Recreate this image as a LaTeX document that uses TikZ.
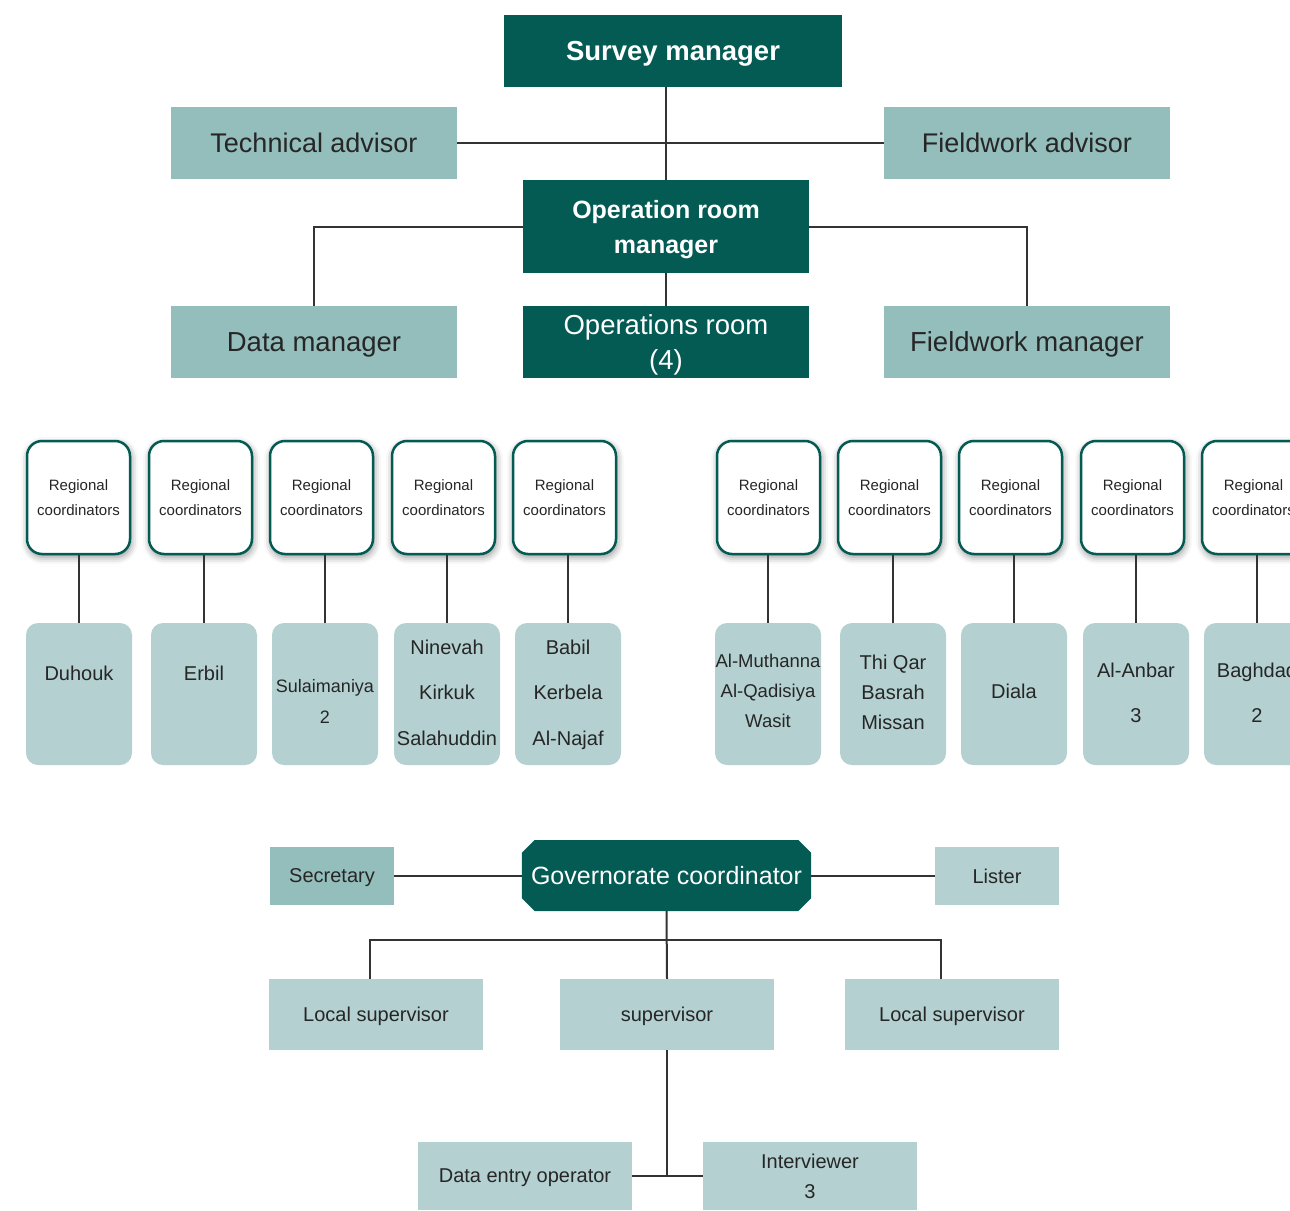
\documentclass[tikz,border=0pt]{standalone}
\usepackage{fontspec}
\setmainfont{Liberation Sans}
\usetikzlibrary{shapes.misc,shadows.blur}
\definecolor{dteal}{RGB}{3,91,84}
\definecolor{lteal}{RGB}{148,190,188}
\definecolor{pteal}{RGB}{180,208,208}
\definecolor{txt}{RGB}{38,38,38}
\definecolor{lncol}{RGB}{51,51,51}
\newcommand\fz[2]{\fontsize{#1}{#2}\selectfont}
\begin{document}
\begin{tikzpicture}[x=1pt,y=-1pt,
  conn/.style={draw=lncol,line width=2pt},
  darkbox/.style={fill=dteal,text=white,inner sep=0pt,align=center,text depth=0pt},
  ltbox/.style={fill=lteal,text=txt,inner sep=0pt,align=center,text depth=0pt},
  plbox/.style={fill=pteal,text=txt,inner sep=0pt,align=center,text depth=0pt},
  bigbox/.style={minimum width=286pt,minimum height=72pt},
  rcbox/.style={draw=dteal,line width=2.5pt,fill=white,rounded corners=15pt,
    minimum width=103pt,minimum height=113pt,inner sep=0pt,align=center,text=txt,
    font=\fz{15}{25},
    blur shadow={shadow xshift=1pt,shadow yshift=-3pt,shadow blur radius=7pt,shadow opacity=45}},
  govbox/.style={fill=pteal,rounded corners=12pt,minimum width=106pt,minimum height=142pt,inner sep=0pt},
  govtxt/.style={text=txt,align=center,inner sep=0pt},
  smallbox/.style={minimum width=214pt,font=\fz{20}{30}}
]
\useasboundingbox (0,0) rectangle (1290,1210);
\clip (0,0) rectangle (1290,1210);

% ---------- top part
\node[darkbox,minimum width=338pt,minimum height=72pt,font=\bfseries\fz{27.5}{33}] (sm) at (673,51) {Survey manager};
\node[ltbox,bigbox,font=\fz{27}{33}] (ta) at (314,143) {Technical advisor};
\node[ltbox,bigbox,font=\fz{27}{33}] (fa) at (1027,143) {Fieldwork advisor};
\node[darkbox,minimum width=286pt,minimum height=93pt,font=\bfseries\fz{25}{35}] (orm) at (666,226.5) {Operation room\\manager};
\node[ltbox,bigbox,font=\fz{27.5}{33}] (dm) at (314,342) {Data manager};
\node[darkbox,bigbox,font=\fz{27.5}{35}] (opr) at (666,342) {Operations room\\(4)};
\node[ltbox,bigbox,font=\fz{27.5}{33}] (fm) at (1027,342) {Fieldwork manager};

\draw[conn] (orm.north) -- (orm.north |- sm.south);
\draw[conn] (ta.east) -- (fa.west);
\draw[conn] (orm.west) -| (dm.north);
\draw[conn] (orm.east) -| (fm.north);
\draw[conn] (orm.south) -- (opr.north);

% ---------- regional coordinators
\foreach \i/\rx/\bx in {1/78.5/79, 2/200.5/204, 3/321.5/325, 4/443.5/447, 5/564.5/568,
                        6/768.5/768, 7/889.5/893, 8/1010.5/1014, 9/1132.5/1136, 10/1253.5/1257}{
  \node[rcbox] (rc\i) at (\rx,497.5) {Regional\\coordinators};
  \node[govbox] (b\i) at (\bx,694) {};
  \draw[conn] (b\i.north) -- (b\i.north |- rc\i.south);
}
\node[govtxt,font=\fz{20}{30}] (t1) at (79,673) {Duhouk};
\node[govtxt,font=\fz{20}{30}] (t2) at (204,673) {Erbil};
\node[govtxt,font=\fz{18}{31}] (t3) at (325,701) {Sulaimaniya\\2};
\node[govtxt,font=\fz{20}{45.5}] (t4) at (447,692.5) {Ninevah\\Kirkuk\\Salahuddin};
\node[govtxt,font=\fz{20}{45.5}] (t5) at (568,694.5) {Babil\\Kerbela\\Al-Najaf};
\node[govtxt,font=\fz{18.5}{30}] (t6) at (768,691) {Al-Muthanna\\Al-Qadisiya\\Wasit};
\node[govtxt,font=\fz{20}{30}] (t7) at (893,692) {Thi Qar\\Basrah\\Missan};
\node[govtxt,font=\fz{20}{30}] (t8) at (1014,691) {Diala};
\node[govtxt,font=\fz{20}{45}] (t9) at (1136,693) {Al-Anbar\\3};
\node[govtxt,font=\fz{20}{45}] (t10) at (1257,693) {Baghdad\\2};

% ---------- governorate structure
\node[darkbox,chamfered rectangle,chamfered rectangle xsep=13pt,
      minimum width=285pt,minimum height=71pt,font=\fz{25}{30}] (gc) at (666.5,875.5) {Governorate coordinator};
\node[ltbox,minimum width=124pt,minimum height=58pt,font=\fz{20}{24}] (sec) at (332,876) {Secretary};
\node[plbox,minimum width=124pt,minimum height=58pt,font=\fz{20}{24}] (lis) at (997,876) {Lister};
\node[plbox,smallbox,minimum height=71pt] (lsl) at (376,1014.5) {Local supervisor};
\node[plbox,smallbox,minimum height=71pt] (sup) at (667,1014.5) {supervisor};
\node[plbox,smallbox,minimum height=71pt] (lsr) at (952,1014.5) {Local supervisor};
\node[plbox,smallbox,minimum height=68pt] (de) at (525,1176) {Data entry operator};
\node[plbox,smallbox,minimum height=68pt] (iv) at (810,1176) {Interviewer\\3};

\coordinate (j1) at (666.5,940);
\draw[conn] (sec.east) -- (sec.east -| gc.west);
\draw[conn] (gc.east) -- (gc.east -| lis.west);
\draw[conn] (gc.south) -- (sup.north);
\draw[conn] ([xshift=-6pt]lsl.north) |- (j1) -| ([xshift=-11pt]lsr.north);
\draw[conn] (sup.south) -- (sup.south |- de.east);
\draw[conn] (de.east) -- (iv.west);
\end{tikzpicture}
\end{document}
